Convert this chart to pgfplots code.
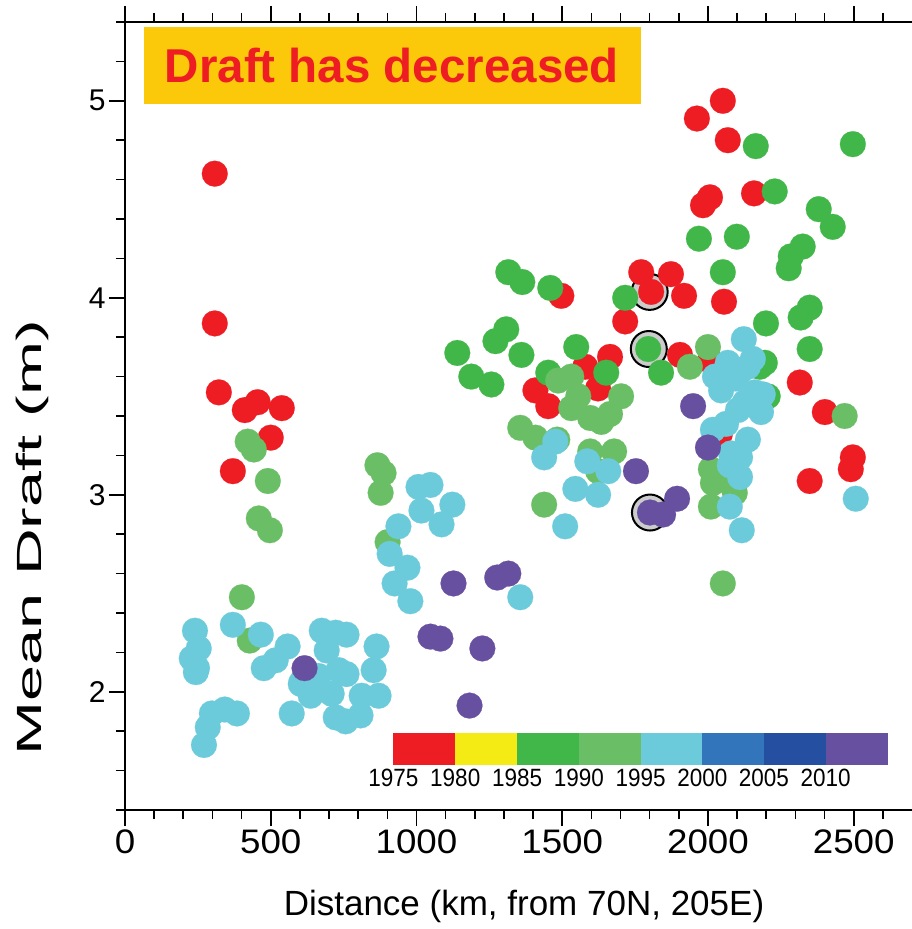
\documentclass[border=0pt]{standalone}
\usepackage{fontspec}
\setmainfont{Liberation Sans}
\usepackage{pgfplots}
\pgfplotsset{compat=1.18}

% colour per 5-year period
\definecolor{cRed}{RGB}{238,29,36}
\definecolor{cYel}{RGB}{244,234,20}
\definecolor{cGrn}{RGB}{65,182,73}
\definecolor{cLgr}{RGB}{106,191,102}
\definecolor{cCya}{RGB}{108,203,219}
\definecolor{cBlu}{RGB}{50,117,187}
\definecolor{cDbl}{RGB}{37,79,160}
\definecolor{cPur}{RGB}{104,80,160}
\definecolor{boxYel}{RGB}{252,200,10}

\pgfplotsset{
  dot/.style={only marks, color=#1, mark=*, mark size=12.9pt,
    mark options={solid, fill=#1, draw=#1, line width=0.2pt}},
}

\begin{document}
\begin{tikzpicture}
\useasboundingbox (-125pt,-119pt) rectangle (787pt,810pt);
\begin{axis}[
  at={(0pt,0pt)}, anchor=south west,
  scale only axis, width=787pt, height=788pt,
  xmin=0, xmax=2700, ymin=1.4, ymax=5.4,
  clip=false,
  axis line style={draw=none},
  xtick={0,500,...,2500}, minor xtick={100,200,...,2600},
  ytick={2,3,4,5}, minor ytick={1.4,1.6,1.8,2.2,2.4,2.6,2.8,3.2,3.4,3.6,3.8,4.2,4.4,4.6,4.8,5.2,5.4},
  xtick pos=both, ytick pos=left, xticklabel pos=left,
  tick align=outside,
  major tick length=16pt, minor tick length=9pt,
  tick style={black, line width=1.6pt},
  /pgf/number format/assume math mode=true,
  /pgf/number format/1000 sep={},
  xticklabel style={font=\fontsize{34}{34}\selectfont, xscale=1.08},
  yticklabel style={font=\fontsize{30}{30}\selectfont},
]
% frame: top, bottom and left edges
\draw[line width=2pt] (rel axis cs:0,1) -- (rel axis cs:1,1);
\draw[line width=2pt] (rel axis cs:0,0) -- (rel axis cs:1,0);
\draw[line width=2pt] (rel axis cs:0,0) -- (rel axis cs:0,1);

% flagged sections
\addplot[only marks, mark=*, mark size=18pt, mark options={fill=black!20, draw=black, line width=2pt}] table {
1800 4.03
1797 3.74
1801 2.91
};

% 1975-1980
\addplot[dot=cRed] table {
308 4.63
308 3.87
322 3.52
411 3.43
455 3.47
538 3.44
500 3.29
370 3.12
1497 4.01
1771 4.13
1805 4.03
1873 4.12
1918 4.01
2055 3.98
1716 3.88
1904 3.71
1664 3.70
1579 3.65
1623 3.54
1408 3.53
1452 3.45
2041 3.31
2051 5.00
1962 4.91
2068 4.80
2007 4.51
1983 4.47
2158 4.53
2007 3.68
2315 3.57
2401 3.42
2497 3.19
2490 3.13
2349 3.07
};

% 1985-1990
\addplot[dot=cGrn] table {
1315 4.13
1363 4.08
1459 4.05
1716 4.00
1308 3.84
1271 3.78
1140 3.72
1360 3.71
1188 3.60
1257 3.56
1548 3.75
1452 3.62
1651 3.62
1795 3.74
1839 3.62
2051 4.13
2199 3.87
2195 3.67
2205 3.50
2164 4.77
2497 4.78
2229 4.54
2380 4.45
2428 4.36
2325 4.26
2284 4.21
2277 4.15
1969 4.30
2099 4.31
2349 3.95
2318 3.90
2349 3.74
2178 3.65
};

% 1990-1995
\addplot[dot=cLgr] table {
421 3.27
442 3.23
490 3.07
459 2.88
497 2.82
401 2.48
428 2.26
866 3.15
887 3.11
877 3.01
901 2.76
1486 3.58
1531 3.60
1555 3.50
1531 3.44
1596 3.39
1634 3.37
1664 3.41
1702 3.50
1356 3.34
1408 3.29
1483 3.28
1596 3.22
1678 3.22
1623 3.12
1438 2.95
2000 3.75
1938 3.65
2010 3.13
2017 3.06
2010 2.94
2079 3.06
2092 3.01
2469 3.40
2051 2.55
};

% 1995-2000
\addplot[dot=cCya] table {
240 2.31
253 2.22
229 2.17
247 2.12
243 2.10
370 2.34
466 2.29
558 2.23
517 2.16
476 2.12
298 1.89
342 1.91
384 1.89
284 1.82
271 1.73
572 1.89
606 2.05
675 2.31
723 2.30
760 2.29
692 2.21
733 2.11
760 2.09
664 2.08
603 2.04
637 1.98
709 1.99
812 1.98
870 1.98
863 2.23
853 2.11
723 1.87
757 1.85
808 1.88
1007 3.04
1048 3.05
1017 2.92
1123 2.95
1086 2.85
938 2.84
908 2.70
969 2.63
925 2.55
979 2.46
1356 2.48
1476 3.27
1438 3.19
1586 3.17
1658 3.12
1545 3.03
1623 3.00
1510 2.84
2123 3.79
2068 3.67
2137 3.65
2024 3.60
2045 3.53
2096 3.59
2161 3.52
2103 3.43
2182 3.42
2127 3.47
2017 3.33
2137 3.28
2079 3.21
2110 3.19
2075 3.15
2110 3.09
2075 2.94
2116 2.82
2507 2.98
2154 3.69
2113 3.63
2188 3.51
2062 3.36
};

% 2010-2015
\addplot[dot=cPur] table {
616 2.12
1127 2.55
1277 2.58
1315 2.60
1048 2.28
1082 2.27
1226 2.22
1182 1.93
1949 3.45
1753 3.12
2000 3.24
1801 2.91
1846 2.90
1894 2.98
};

% period colour key
\fill[cRed] (axis cs:921,1.630) rectangle (axis cs:1133,1.792);
\fill[cYel] (axis cs:1133,1.630) rectangle (axis cs:1345,1.792);
\fill[cGrn] (axis cs:1345,1.630) rectangle (axis cs:1557,1.792);
\fill[cLgr] (axis cs:1557,1.630) rectangle (axis cs:1769,1.792);
\fill[cCya] (axis cs:1769,1.630) rectangle (axis cs:1981,1.792);
\fill[cBlu] (axis cs:1981,1.630) rectangle (axis cs:2192,1.792);
\fill[cDbl] (axis cs:2192,1.630) rectangle (axis cs:2404,1.792);
\fill[cPur] (axis cs:2404,1.630) rectangle (axis cs:2616,1.792);
\begin{scope}[every node/.style={anchor=base, inner sep=0pt, xscale=0.9, font=\fontsize{25}{25}\selectfont}]
\node at (axis cs:921,1.518) {1975};
\node at (axis cs:1133,1.518) {1980};
\node at (axis cs:1345,1.518) {1985};
\node at (axis cs:1557,1.518) {1990};
\node at (axis cs:1769,1.518) {1995};
\node at (axis cs:1981,1.518) {2000};
\node at (axis cs:2192,1.518) {2005};
\node at (axis cs:2404,1.518) {2010};
\end{scope}
\end{axis}

% headline box
\fill[boxYel] (19pt,706pt) rectangle (516pt,783pt);
\node[anchor=base, inner sep=0pt, text=cRed, font=\bfseries\fontsize{47.5}{47.5}\selectfont] at (267pt,727pt) {Draft has decreased};

% axis titles
\node[anchor=base, inner sep=0pt, font=\fontsize{35}{35}\selectfont] at (399pt,-105pt) {Distance (km, from 70N, 205E)};
\node[rotate=90, xscale=1.85, inner sep=0pt, font=\fontsize{35}{35}\selectfont] at (-93pt,272pt) {Mean Draft (m)};
\end{tikzpicture}
\end{document}
